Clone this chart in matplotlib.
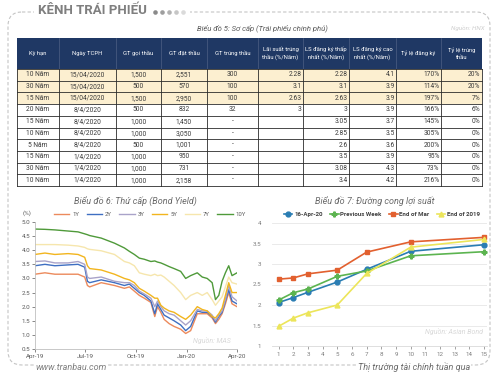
import matplotlib
matplotlib.use('Agg')
import matplotlib.pyplot as plt
from matplotlib.patches import Rectangle, FancyBboxPatch
import pandas as pd
import numpy as np

plt.rcParams['font.family'] = ['Roboto', 'DejaVu Sans']

# ---------------- Biểu đồ 5: bảng đấu thầu sơ cấp
headers = ['Kỳ hạn', 'Ngày TCPH', 'GT gọi thầu', 'GT đặt thầu', 'GT trúng thầu',
           'Lãi suất trúng\nthầu (%/Năm)', 'LS đăng ký thấp\nnhất (%/Năm)',
           'LS đăng ký cao\nnhất (%/Năm)', 'Tỷ lệ đăng ký', 'Tỷ lệ trúng\nthầu']
ky_han = ['10 Năm', '30 Năm', '15 Năm', '20 Năm', '15 Năm', '10 Năm', '5 Năm', '15 Năm', '30 Năm', '10 Năm']
ngay_tcph = ['15/04/2020', '15/04/2020', '15/04/2020', '8/4/2020', '8/4/2020', '8/4/2020', '8/4/2020',
             '1/4/2020', '1/4/2020', '1/4/2020']
gt_goi = ['1,500', '500', '1,500', '500', '1,000', '1,000', '500', '1,000', '1,000', '1,000']
gt_dat = ['2,551', '570', '2,950', '832', '1,450', '3,050', '1,001', '950', '731', '2,158']
gt_trung = ['300', '100', '100', '32', '-', '-', '-', '-', '-', '-']
ls_trung = ['2.28', '3.1', '2.63', '3', '', '', '', '', '', '']
ls_thap = ['2.28', '3.1', '2.63', '3', '3.05', '2.85', '2.6', '3.5', '3.08', '3.4']
ls_cao = ['4.1', '3.9', '3.9', '3.9', '3.7', '3.5', '3.6', '3.9', '4.3', '4.2']
tl_dang_ky = ['170%', '114%', '197%', '166%', '145%', '305%', '200%', '95%', '73%', '216%']
tl_trung = ['20%', '20%', '7%', '6%', '0%', '0%', '0%', '0%', '0%', '0%']

# ---------------- Biểu đồ 6: lợi suất thứ cấp
dates = pd.to_datetime([
    '2019-04-16', '2019-05-04', '2019-05-22', '2019-06-15', '2019-07-03', '2019-07-15',
    '2019-07-20', '2019-07-24', '2019-08-14', '2019-09-07', '2019-09-25', '2019-10-04',
    '2019-10-13', '2019-10-22', '2019-10-31', '2019-11-12', '2019-11-19', '2019-11-24',
    '2019-11-30', '2019-12-06', '2019-12-15', '2019-12-24', '2020-01-05', '2020-01-14',
    '2020-01-23', '2020-02-04', '2020-02-13', '2020-02-22', '2020-03-02', '2020-03-08',
    '2020-03-14', '2020-03-20', '2020-03-26', '2020-04-01', '2020-04-07', '2020-04-16'])
y1 = [3.15, 3.20, 3.15, 3.15, 3.15, 3.05, 2.75, 2.70, 2.85, 2.75, 2.65, 2.70, 2.55, 2.40, 2.30, 2.15,
      1.65, 2.00, 1.80, 1.55, 1.40, 1.30, 1.20, 1.05, 1.15, 1.75, 1.75, 1.75, 1.60, 1.40, 1.55, 1.75,
      2.10, 2.50, 2.10, 2.00]
y2 = [3.45, 3.50, 3.45, 3.48, 3.50, 3.40, 2.90, 2.85, 2.95, 2.85, 2.75, 2.80, 2.65, 2.50, 2.40, 2.20,
      1.75, 2.10, 1.90, 1.70, 1.60, 1.50, 1.35, 1.15, 1.30, 1.85, 1.80, 1.80, 1.65, 1.45, 1.65, 1.80,
      2.20, 2.60, 2.20, 2.10]
y3 = [3.60, 3.62, 3.55, 3.55, 3.60, 3.50, 3.05, 3.00, 3.05, 2.90, 2.85, 2.85, 2.75, 2.55, 2.45, 2.30,
      2.00, 2.20, 2.00, 1.85, 1.75, 1.70, 1.50, 1.35, 1.50, 1.90, 1.85, 1.85, 1.70, 1.50, 1.70, 1.85,
      2.25, 2.75, 2.35, 2.20]
y5 = [3.85, 3.90, 3.85, 3.88, 3.85, 3.75, 3.45, 3.35, 3.30, 3.15, 3.00, 2.95, 2.85, 2.65, 2.55, 2.40,
      2.30, 2.30, 2.05, 1.95, 1.85, 1.80, 1.65, 1.55, 1.70, 2.00, 1.90, 1.85, 1.65, 1.60, 1.75, 1.95,
      2.40, 2.85, 2.50, 2.50]
y7 = [4.20, 4.20, 4.20, 4.18, 4.15, 4.10, 4.05, 4.03, 3.98, 3.85, 3.60, 3.55, 3.45, 3.20, 3.15, 3.10,
      3.15, 3.10, 3.12, 3.05, 2.90, 2.75, 2.50, 2.25, 2.40, 2.50, 2.40, 2.50, 2.25, 2.05, 2.20, 2.35,
      2.70, 3.05, 2.85, 2.80]
y10 = [4.75, 4.74, 4.72, 4.68, 4.65, 4.58, 4.55, 4.52, 4.43, 4.25, 4.08, 3.96, 3.85, 3.72, 3.68, 3.60,
       3.62, 3.58, 3.55, 3.50, 3.42, 3.35, 3.25, 3.00, 3.10, 3.20, 3.05, 3.00, 2.85, 2.25, 2.40, 2.90,
       3.20, 3.45, 3.10, 3.20]
bond_labels = ['1Y', '2Y', '3Y', '5Y', '7Y', '10Y']
bond_colors = ['#ec8a5c', '#3f6fc2', '#a9a3c9', '#f2b51e', '#f6e6ad', '#4f9a3a']

# ---------------- Biểu đồ 7: đường cong lợi suất
ky_han_nam = [1, 2, 3, 5, 7, 10, 15]
apr16 = [2.06, 2.18, 2.31, 2.56, 2.87, 3.31, 3.47]
prev_week = [2.12, 2.30, 2.39, 2.70, 2.83, 3.20, 3.30]
end_mar = [2.63, 2.66, 2.76, 2.85, 3.29, 3.54, 3.65]
end_2019 = [1.48, 1.68, 1.81, 2.00, 2.77, 3.41, 3.60]

fig = plt.figure(figsize=(5, 3.75), dpi=100)
bg = fig.add_axes([0, 0, 1, 1])
bg.set_xlim(0, 500)
bg.set_ylim(375, 0)
bg.axis('off')

# khung nét đứt
bg.add_patch(FancyBboxPatch((8, 12), 482, 353, boxstyle='round,pad=0,rounding_size=14',
                            fc='none', ec='#c4c4c4', lw=0.8, ls=(0, (3, 2))))
bg.add_patch(Rectangle((34, 4), 156, 16, fc='white', ec='none', zorder=1.5))
bg.text(38, 11, 'KÊNH TRÁI PHIẾU', fontsize=9.5, weight='bold', color='#7f7f7f', va='center', zorder=2)
for i, c in enumerate(['#8a8a8a', '#9e9e9e', '#b2b2b2', '#c6c6c6', '#dadada']):
    bg.plot(155 + i * 7, 12, 'o', ms=3.3, color=c, mec='none', zorder=2)

bg.text(262, 28, 'Biểu đồ 5: Sơ cấp (Trái phiếu chính phủ)', fontsize=5.5, style='italic',
        color='#595959', ha='center', va='center')
bg.text(468, 28, 'Nguồn: HNX', fontsize=4.5, style='italic', color='#cfcfcf', ha='center', va='center')

# bảng
col_x = [17, 59, 116, 161, 207, 258, 303, 349, 396, 441, 482]
head_top, head_bot, row_h = 38, 69, 11.7
columns = [ky_han, ngay_tcph, gt_goi, gt_dat, gt_trung, ls_trung, ls_thap, ls_cao, tl_dang_ky, tl_trung]
n = len(ky_han)
bg.add_patch(Rectangle((col_x[0], head_top), col_x[-1] - col_x[0], head_bot - head_top,
                       fc='#1f3864', ec='none'))
for j, h in enumerate(headers):
    bg.text((col_x[j] + col_x[j + 1]) / 2, (head_top + head_bot) / 2, h, color='white',
            fontsize=4.2, ha='center', va='center', linespacing=1.4)
    if 0 < j:
        bg.plot([col_x[j]] * 2, [head_top, head_bot], color='#5a6a8c', lw=0.4)
for i in range(n):
    y0 = head_bot + i * row_h
    if i < 3:
        bg.add_patch(Rectangle((col_x[0], y0), col_x[-1] - col_x[0], row_h, fc='#fcefd0', ec='none'))
    for j, col in enumerate(columns):
        if j < 5:
            x, ha = (col_x[j] + col_x[j + 1]) / 2, 'center'
        else:
            x, ha = col_x[j + 1] - 1.5, 'right'
        bg.text(x, y0 + row_h / 2, col[i], fontsize=4.8, color='#3a3a3a', ha=ha, va='center')
tab_bot = head_bot + n * row_h
for x in col_x:
    bg.plot([x, x], [head_bot, tab_bot], color='#2b2b2b', lw=0.6)
for i in range(n + 1):
    bg.plot([col_x[0], col_x[-1]], [head_bot + i * row_h] * 2, color='#2b2b2b', lw=0.6)

# tiêu đề hai biểu đồ dưới
bg.text(135, 201, 'Biểu đồ 6: Thứ cấp (Bond Yield)', fontsize=6.5, style='italic', color='#6a6a6a',
        ha='center', va='center')
bg.text(375, 201, 'Biểu đồ 7: Đường cong lợi suất', fontsize=6.5, style='italic', color='#6a6a6a',
        ha='center', va='center')
bg.text(35, 367, 'www.tranbau.com', fontsize=6.5, style='italic', color='#7f7f7f', va='center',
        bbox=dict(fc='white', ec='none', pad=1))
bg.text(470, 367, 'Thị trường tài chính tuần qua', fontsize=6.5, style='italic', color='#6a6a6a',
        ha='right', va='center', bbox=dict(fc='white', ec='none', pad=1))

# ---- biểu đồ 6
ax1 = fig.add_axes([35 / 500, 1 - 349 / 375, 202 / 500, 127 / 375])
for ys, lab, c in zip([y1, y2, y3, y5, y7, y10], bond_labels, bond_colors):
    ax1.plot(dates, ys, color=c, lw=1.0, label=lab)
ax1.set_ylim(0.5, 5.0)
ax1.set_yticks(np.arange(0.5, 5.01, 0.5))
ax1.set_yticklabels([f'{v:.1f}' for v in np.arange(0.5, 5.01, 0.5)])
ax1.set_xlim(dates[0], dates[-1])
xt = pd.to_datetime(['2019-04-16', '2019-07-16', '2019-10-16', '2020-01-16', '2020-04-16'])
ax1.set_xticks(xt)
ax1.set_xticklabels([d.strftime('%b-%y') for d in xt])
for s in ['top', 'right']:
    ax1.spines[s].set_visible(False)
for s in ['left', 'bottom']:
    ax1.spines[s].set_color('#bfbfbf')
    ax1.spines[s].set_linewidth(0.6)
ax1.tick_params(labelsize=4.5, colors='#595959', length=2, width=0.5, pad=1.5)
ax1.patch.set_alpha(0)
ax1.text(-0.04, 1.06, '(%)', transform=ax1.transAxes, fontsize=4.5, color='#595959', ha='center')
ax1.text(0.97, 0.05, 'Nguồn: MAS', transform=ax1.transAxes, fontsize=5, style='italic',
         color='#d8d8d8', ha='right')
ax1.legend(loc='center', bbox_to_anchor=(150 / 500, 1 - 214 / 375), bbox_transform=fig.transFigure,
           ncol=6, frameon=False, fontsize=4.3, handlelength=2.6, handletextpad=0.5,
           columnspacing=1.2, labelcolor='#595959')

# ---- biểu đồ 7
ax2 = fig.add_axes([272 / 500, 1 - 346 / 375, 215 / 500, 123 / 375])
for ys, lab, c, m in zip([apr16, prev_week, end_mar, end_2019],
                         ['16-Apr-20', 'Previous Week', 'End of Mar', 'End of 2019'],
                         ['#2a7db3', '#5cb450', '#e2602f', '#ece55a'], ['o', 'P', 's', '^']):
    ax2.plot(ky_han_nam, ys, color=c, lw=1.2, marker=m, ms=3.5, label=lab)
ax2.set_ylim(1, 4)
ax2.set_xlim(0.55, 15.2)
ax2.set_yticks([1, 1.5, 2, 2.5, 3, 3.5, 4])
ax2.set_yticklabels(['1', '1.5', '2', '2.5', '3', '3.5', '4'])
ax2.set_xticks(range(1, 16))
ax2.grid(axis='y', color='#e6e6e6', lw=0.6)
ax2.set_axisbelow(True)
for s in ['top', 'right', 'left']:
    ax2.spines[s].set_visible(False)
ax2.spines['bottom'].set_color('#d9d9d9')
ax2.spines['bottom'].set_linewidth(0.6)
ax2.tick_params(labelsize=4.5, colors='#7f7f7f', length=2, width=0.5, pad=2)
ax2.tick_params(axis='y', length=0, pad=8)
ax2.patch.set_alpha(0)
ax2.text(0.98, 0.1, 'Nguồn: Asian Bond', transform=ax2.transAxes, fontsize=5, style='italic',
         color='#d8d8d8', ha='right')
ax2.legend(loc='center', bbox_to_anchor=(382 / 500, 1 - 214 / 375), bbox_transform=fig.transFigure,
           ncol=4, frameon=False, handlelength=1.4, handletextpad=0.3,
           columnspacing=1.2, labelcolor='#404040', prop={'weight': 'bold', 'size': 4.4})

fig.savefig('out.png', dpi=100)
